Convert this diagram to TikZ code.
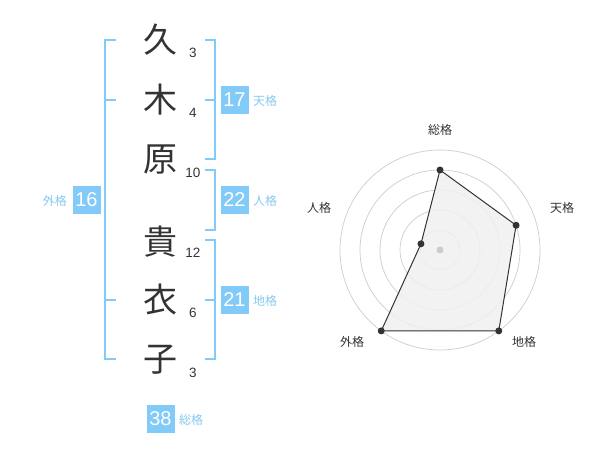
\documentclass[tikz,border=0pt]{standalone}
\usepackage{fontspec}
\usetikzlibrary{calc}
\setmainfont{Liberation Sans}
\newfontfamily\cjk{Noto Sans CJK JP}
\definecolor{kblue}{HTML}{82CAF8}
\definecolor{klbl}{HTML}{86C8F0}
\definecolor{ktxt}{HTML}{333333}
\definecolor{kring}{HTML}{CCCCCC}
\definecolor{kfill}{HTML}{F0F0F0}
\tikzset{
  kanji/.style={font=\cjk\fontsize{34}{34}\selectfont, text=ktxt, inner sep=0pt},
  stroke/.style={font=\fontsize{13.5}{14}\selectfont, text=ktxt, inner sep=0pt},
  kbox/.style={fill=kblue, minimum width=28pt, minimum height=28pt, inner sep=0pt, text=white, font=\fontsize{20}{20}\selectfont},
  klabel/.style={font=\cjk\fontsize{12}{12}\selectfont, text=klbl, inner sep=0pt},
  bracket/.style={draw=kblue, line width=1.6pt},
  rlabel/.style={font=\cjk\fontsize{12}{12}\selectfont, text=ktxt, inner sep=0pt},
  ring/.style={draw=kring, line width=0.7pt},
  rdot/.style={circle, fill=ktxt, minimum size=7pt, inner sep=0pt}
}
\begin{document}
\begin{tikzpicture}[x=1pt,y=-1pt]
\useasboundingbox (0,0) rectangle (600,470);
% characters
\node[kanji] (c1) at (160,40) {久};
\node[kanji] (c2) at (160,100) {木};
\node[kanji] (c3) at (160,160) {原};
\node[kanji] (c4) at (160,242) {貴};
\node[kanji] (c5) at (160,300) {衣};
\node[kanji] (c6) at (160,360) {子};
% stroke counts
\node[stroke] (s1) at (193,53) {3};
\node[stroke] (s2) at (193,113) {4};
\node[stroke] (s3) at (193,173) {10};
\node[stroke] (s4) at (193,253) {12};
\node[stroke] (s5) at (193,313) {6};
\node[stroke] (s6) at (193,373) {3};
% brackets
\draw[bracket] (116,40) -- (105,40) -- (105,359) -- (116,359);
\draw[bracket] (105,100) -- (116,100);
\draw[bracket] (105,300) -- (116,300);
\draw[bracket] (205,40) -- (215,40) -- (215,159) -- (205,159);
\draw[bracket] (215,100) -- (205,100);
\draw[bracket] (205,170) -- (215,170) -- (215,230) -- (205,230);
\draw[bracket] (205,240) -- (215,240) -- (215,359) -- (205,359);
\draw[bracket] (215,300) -- (205,300);
% boxes
\node[kbox] (b17) at (234.5,100) {17};
\node[klabel, anchor=west] (l17) at (253,101) {天格};
\node[kbox] (b22) at (234.5,200) {22};
\node[klabel, anchor=west] (l22) at (253,201) {人格};
\node[kbox] (b21) at (234.5,300) {21};
\node[klabel, anchor=west] (l21) at (253,301) {地格};
\node[kbox] (b16) at (86.5,200) {16};
\node[klabel, anchor=east] (l16) at (67,201) {外格};
\node[kbox] (b38) at (160.5,419) {38};
\node[klabel, anchor=west] (l38) at (179,420) {総格};
% radar
\coordinate (o) at (440,250);
\foreach \r in {20,40,60,80,100} \draw[ring] (o) circle[radius=\r];
\coordinate (p1) at ($(o)+(0,-80)$);
\coordinate (p2) at ($(o)+({80*cos(18)},{-80*sin(18)})$);
\coordinate (p3) at ($(o)+({100*cos(54)},{100*sin(54)})$);
\coordinate (p4) at ($(o)+({-100*cos(54)},{100*sin(54)})$);
\coordinate (p5) at ($(o)+({-20*cos(18)},{-20*sin(18)})$);
\fill[kfill, opacity=0.85] (p1) -- (p2) -- (p3) -- (p4) -- (p5) -- cycle;
\draw[ktxt, line width=1pt, line join=round] (p1) -- (p2) -- (p3) -- (p4) -- (p5) -- cycle;
\node[circle, fill=kring, minimum size=7pt, inner sep=0pt] (oc) at (o) {};
\foreach \p in {p1,p2,p3,p4,p5} \node[rdot] at (\p) {};
\node[rlabel] (r1) at (440,130) {総格};
\node[rlabel] (r2) at (562,208) {天格};
\node[rlabel] (r3) at (524,342) {地格};
\node[rlabel] (r4) at (352,342) {外格};
\node[rlabel] (r5) at (319,208) {人格};
\end{tikzpicture}
\end{document}
